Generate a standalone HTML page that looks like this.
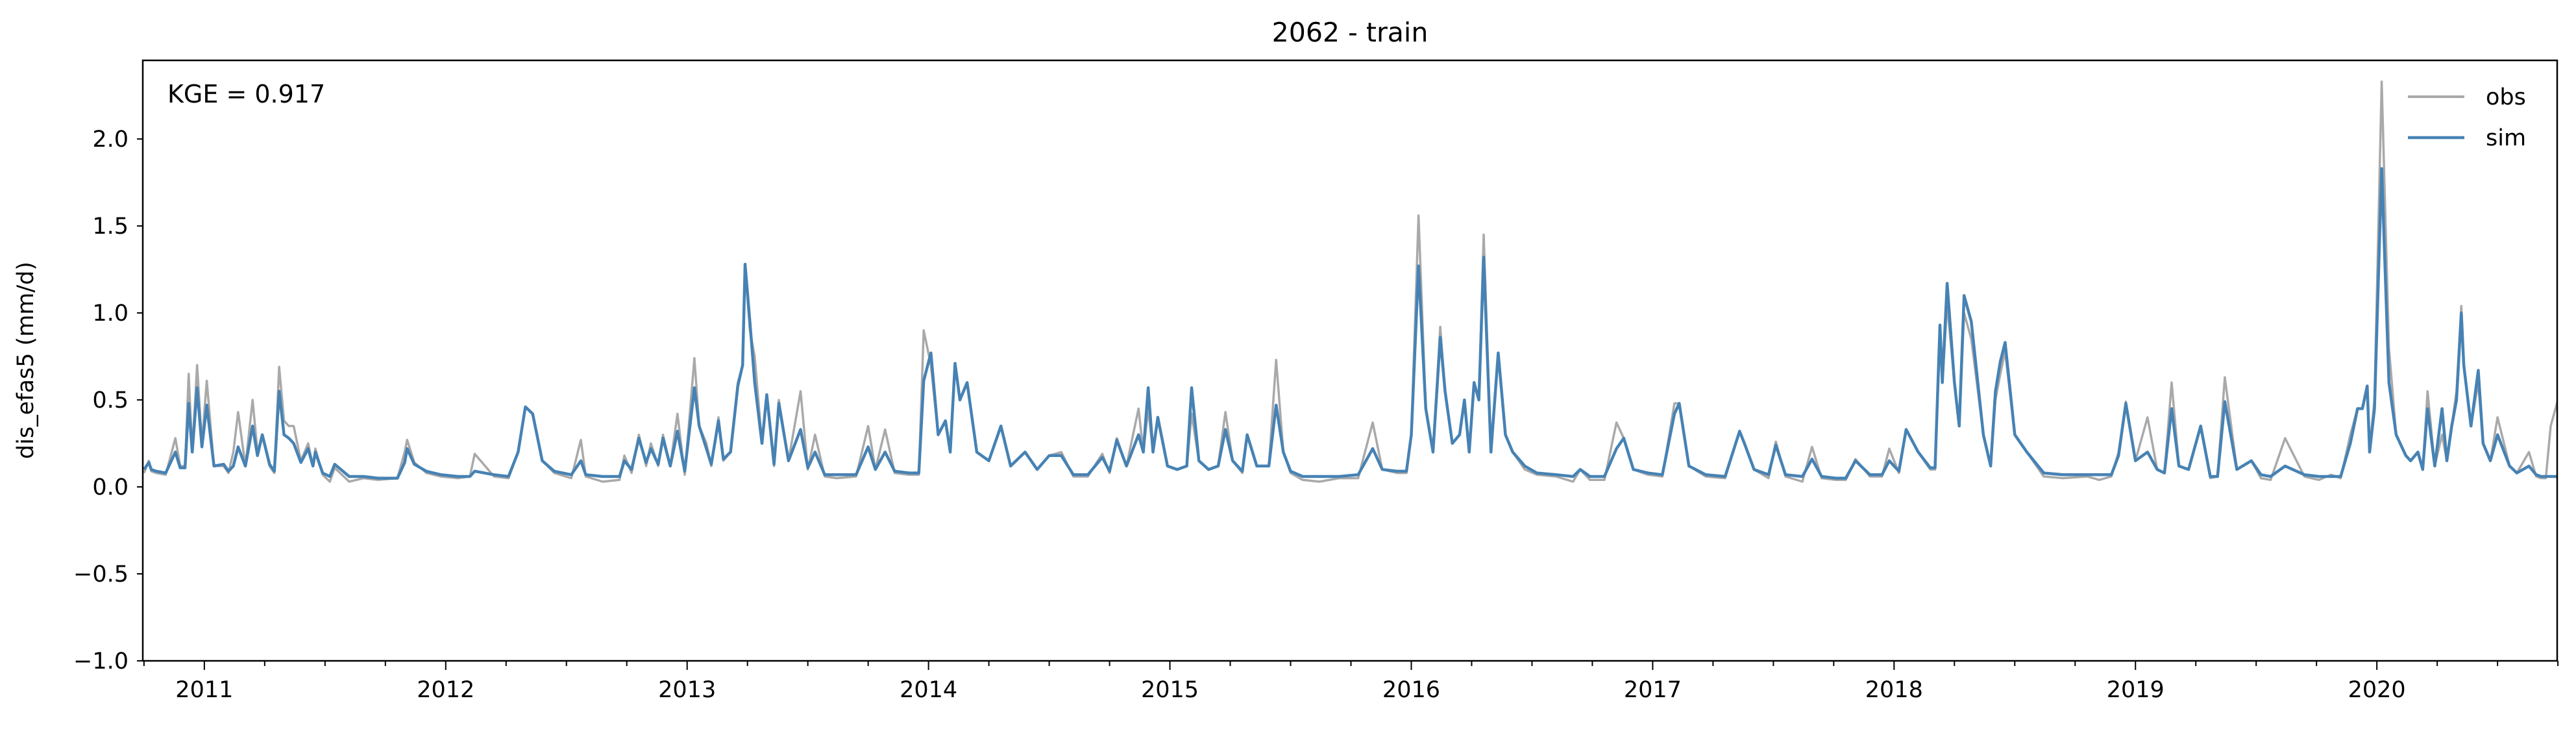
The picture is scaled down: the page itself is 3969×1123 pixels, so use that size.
<!DOCTYPE html>
<html><head><meta charset="utf-8"><style>
html,body{margin:0;padding:0;background:#fff;}
svg text{font-family:"DejaVu Sans","Liberation Sans",sans-serif;fill:#000;}
</style></head><body>
<svg id="chart" width="3969" height="1118" viewBox="0 0 3969 1118" xmlns="http://www.w3.org/2000/svg">
<rect x="0" y="0" width="3969" height="1118" fill="#fff"/>
<text x="2080" y="64" font-size="41" text-anchor="middle">2062 - train</text>
<text x="51" y="555" font-size="35" text-anchor="middle" transform="rotate(-90 51 555)">dis_efas5 (mm/d)</text>
<g id="plot"></g>
<text x="258" y="158" font-size="38">KGE = 0.917</text>
<g>
<line x1="3710" y1="149" x2="3797" y2="149" stroke="#a9a9a9" stroke-width="4"/>
<text x="3830" y="161" font-size="35">obs</text>
<line x1="3710" y1="212" x2="3797" y2="212" stroke="#4682b4" stroke-width="4.5"/>
<text x="3830" y="224" font-size="35">sim</text>
</g>
</svg>
<script>
const dates = [2010.75,2010.77,2010.78,2010.80,2010.84,2010.88,2010.90,2010.92,2010.935,2010.95,2010.97,2010.99,2011.01,2011.04,2011.08,2011.10,2011.12,2011.14,2011.17,2011.20,2011.22,2011.24,2011.27,2011.29,2011.31,2011.33,2011.35,2011.37,2011.40,2011.43,2011.45,2011.46,2011.49,2011.52,2011.54,2011.60,2011.66,2011.72,2011.80,2011.83,2011.84,2011.87,2011.92,2011.98,2012.05,2012.10,2012.12,2012.20,2012.26,2012.30,2012.33,2012.36,2012.40,2012.45,2012.52,2012.56,2012.58,2012.65,2012.72,2012.74,2012.77,2012.80,2012.83,2012.85,2012.88,2012.90,2012.93,2012.96,2012.99,2013.03,2013.05,2013.08,2013.10,2013.13,2013.15,2013.18,2013.21,2013.23,2013.24,2013.26,2013.28,2013.31,2013.33,2013.36,2013.38,2013.42,2013.47,2013.50,2013.53,2013.57,2013.62,2013.70,2013.75,2013.78,2013.82,2013.86,2013.92,2013.96,2013.98,2014.01,2014.04,2014.07,2014.09,2014.11,2014.13,2014.16,2014.20,2014.25,2014.30,2014.34,2014.40,2014.45,2014.50,2014.55,2014.60,2014.66,2014.72,2014.75,2014.78,2014.82,2014.87,2014.89,2014.91,2014.93,2014.95,2014.99,2015.03,2015.07,2015.09,2015.12,2015.16,2015.20,2015.23,2015.26,2015.30,2015.32,2015.36,2015.41,2015.44,2015.47,2015.50,2015.55,2015.62,2015.70,2015.78,2015.84,2015.88,2015.94,2015.98,2016.00,2016.03,2016.06,2016.09,2016.12,2016.14,2016.17,2016.20,2016.22,2016.24,2016.26,2016.28,2016.30,2016.33,2016.36,2016.39,2016.42,2016.47,2016.52,2016.60,2016.67,2016.70,2016.74,2016.80,2016.85,2016.88,2016.92,2016.98,2017.04,2017.09,2017.11,2017.15,2017.22,2017.30,2017.36,2017.38,2017.42,2017.48,2017.51,2017.55,2017.62,2017.66,2017.70,2017.76,2017.80,2017.84,2017.90,2017.95,2017.98,2018.02,2018.05,2018.10,2018.15,2018.17,2018.19,2018.20,2018.22,2018.25,2018.27,2018.29,2018.32,2018.37,2018.40,2018.42,2018.44,2018.46,2018.50,2018.55,2018.62,2018.70,2018.80,2018.85,2018.90,2018.93,2018.96,2019.00,2019.05,2019.09,2019.12,2019.15,2019.18,2019.22,2019.27,2019.31,2019.34,2019.37,2019.42,2019.48,2019.52,2019.56,2019.62,2019.70,2019.76,2019.81,2019.85,2019.89,2019.92,2019.94,2019.96,2019.97,2019.99,2020.02,2020.05,2020.08,2020.12,2020.14,2020.17,2020.19,2020.21,2020.24,2020.27,2020.29,2020.31,2020.33,2020.35,2020.36,2020.39,2020.42,2020.44,2020.47,2020.50,2020.55,2020.58,2020.63,2020.66,2020.68,2020.70,2020.72,2020.74,2020.75];
const obs = [0.08,0.15,0.09,0.08,0.07,0.28,0.12,0.12,0.65,0.2,0.70,0.25,0.61,0.12,0.12,0.08,0.2,0.43,0.12,0.50,0.2,0.30,0.12,0.08,0.69,0.38,0.35,0.35,0.15,0.25,0.12,0.22,0.07,0.03,0.11,0.03,0.05,0.04,0.05,0.2,0.27,0.14,0.08,0.06,0.05,0.06,0.19,0.06,0.05,0.2,0.46,0.42,0.15,0.08,0.05,0.27,0.06,0.03,0.04,0.18,0.08,0.30,0.12,0.25,0.12,0.30,0.12,0.42,0.07,0.74,0.35,0.25,0.12,0.40,0.15,0.2,0.6,0.7,1.26,0.9,0.75,0.25,0.53,0.12,0.5,0.15,0.55,0.1,0.3,0.06,0.05,0.06,0.35,0.1,0.33,0.08,0.07,0.07,0.90,0.70,0.3,0.38,0.2,0.71,0.5,0.6,0.2,0.15,0.35,0.12,0.2,0.1,0.18,0.2,0.06,0.06,0.19,0.08,0.28,0.12,0.45,0.2,0.45,0.2,0.4,0.12,0.1,0.12,0.42,0.15,0.1,0.12,0.43,0.15,0.08,0.3,0.12,0.12,0.73,0.2,0.08,0.04,0.03,0.05,0.05,0.37,0.1,0.08,0.08,0.3,1.56,0.45,0.2,0.92,0.55,0.25,0.3,0.5,0.2,0.6,0.5,1.45,0.2,0.77,0.3,0.2,0.1,0.07,0.06,0.03,0.1,0.04,0.04,0.37,0.28,0.1,0.07,0.06,0.48,0.48,0.12,0.06,0.05,0.32,0.25,0.1,0.05,0.26,0.06,0.03,0.23,0.05,0.04,0.04,0.16,0.06,0.06,0.22,0.08,0.33,0.2,0.1,0.1,0.85,0.6,1.05,0.6,0.35,1.0,0.85,0.3,0.12,0.5,0.65,0.78,0.3,0.2,0.06,0.05,0.06,0.04,0.06,0.2,0.49,0.15,0.4,0.1,0.08,0.6,0.12,0.1,0.35,0.05,0.06,0.63,0.1,0.15,0.05,0.04,0.28,0.06,0.04,0.07,0.05,0.3,0.45,0.45,0.58,0.22,0.5,2.33,0.8,0.3,0.18,0.15,0.2,0.1,0.55,0.12,0.3,0.15,0.35,0.55,1.04,0.7,0.35,0.6,0.25,0.15,0.4,0.12,0.08,0.2,0.06,0.05,0.05,0.35,0.45,0.5,0.6,0.3,0.2];
const sim = [0.10,0.14,0.10,0.09,0.08,0.20,0.11,0.11,0.48,0.2,0.57,0.23,0.47,0.12,0.13,0.09,0.12,0.23,0.12,0.35,0.18,0.30,0.13,0.09,0.55,0.30,0.28,0.25,0.14,0.22,0.12,0.2,0.08,0.06,0.13,0.06,0.06,0.05,0.05,0.14,0.22,0.13,0.09,0.07,0.06,0.06,0.09,0.07,0.06,0.2,0.46,0.42,0.15,0.09,0.07,0.15,0.07,0.06,0.06,0.15,0.10,0.28,0.14,0.22,0.13,0.28,0.12,0.32,0.09,0.57,0.35,0.22,0.13,0.38,0.16,0.2,0.58,0.7,1.28,0.95,0.6,0.25,0.53,0.13,0.48,0.15,0.33,0.11,0.2,0.07,0.07,0.07,0.23,0.1,0.2,0.09,0.08,0.08,0.61,0.77,0.3,0.38,0.2,0.71,0.5,0.6,0.2,0.15,0.35,0.12,0.2,0.1,0.18,0.18,0.07,0.07,0.17,0.09,0.27,0.12,0.3,0.2,0.57,0.2,0.4,0.12,0.1,0.12,0.57,0.15,0.1,0.12,0.33,0.15,0.09,0.3,0.12,0.12,0.47,0.2,0.09,0.06,0.06,0.06,0.07,0.22,0.1,0.09,0.09,0.3,1.27,0.45,0.2,0.86,0.55,0.25,0.3,0.5,0.2,0.6,0.5,1.32,0.2,0.77,0.3,0.2,0.12,0.08,0.07,0.06,0.1,0.06,0.06,0.22,0.28,0.1,0.08,0.07,0.42,0.48,0.12,0.07,0.06,0.32,0.25,0.1,0.07,0.24,0.07,0.06,0.16,0.06,0.05,0.05,0.15,0.07,0.07,0.15,0.09,0.33,0.2,0.11,0.11,0.93,0.6,1.17,0.6,0.35,1.1,0.95,0.3,0.12,0.55,0.72,0.83,0.3,0.2,0.08,0.07,0.07,0.07,0.07,0.18,0.48,0.15,0.2,0.1,0.08,0.45,0.12,0.1,0.35,0.06,0.06,0.49,0.1,0.15,0.07,0.06,0.12,0.07,0.06,0.06,0.06,0.25,0.45,0.45,0.58,0.2,0.45,1.83,0.6,0.3,0.18,0.15,0.2,0.1,0.45,0.12,0.45,0.15,0.35,0.5,1.0,0.7,0.35,0.67,0.25,0.15,0.3,0.12,0.08,0.12,0.07,0.06,0.06,0.06,0.06,0.06,0.27,0.15,0.1];
const yTicks = [-1.0,-0.5,0.0,0.5,1.0,1.5,2.0];
const yTickLabels = ["\u22121.0","\u22120.5","0.0","0.5","1.0","1.5","2.0"];
const xYears = [2011,2012,2013,2014,2015,2016,2017,2018,2019,2020];

const L=220,R=3940,T=93,B=1018;
const x0=2010.745,x1=2020.747,yMin=-1.0,yMax=2.452;
const sx=v=>L+(v-x0)/(x1-x0)*(R-L);
const sy=v=>B-(v-yMin)/(yMax-yMin)*(B-T);
const NS='http://www.w3.org/2000/svg';
const plot=document.getElementById('plot');
function mk(tag,attrs){const e=document.createElementNS(NS,tag);for(const k in attrs)e.setAttribute(k,attrs[k]);return e;}

const clip=mk('clipPath',{id:'pc'});clip.appendChild(mk('rect',{x:L,y:T,width:R-L,height:B-T}));
plot.appendChild(clip);

function line(vals,color,w,name){
  let d='';
  vals.forEach((v,i)=>{d+=(i?'L':'M')+sx(dates[i]).toFixed(1)+' '+sy(v).toFixed(1);});
  const p=mk('path',{d:d,fill:'none',stroke:color,'stroke-width':w,'stroke-linejoin':'round','clip-path':'url(#pc)'});
  
  
  plot.appendChild(p);
}
line(obs,'#a9a9a9',3.5,'obs-series-line');
line(sim,'#4682b4',4.5,'sim-series-line');

const frame=mk('rect',{x:L,y:T,width:R-L,height:B-T,fill:'none',stroke:'#000','stroke-width':2.5});


plot.appendChild(frame);

yTicks.forEach((v,i)=>{
  const t=mk('line',{x1:L-9,x2:L,y1:sy(v),y2:sy(v),stroke:'#000','stroke-width':2});
  
  
  plot.appendChild(t);
  const lb=mk('text',{x:L-22,y:sy(v)+12,'font-size':35,'text-anchor':'end'});
  lb.textContent=yTickLabels[i];
  
  
  plot.appendChild(lb);
});
for(let q=2010.75;q<=2020.76;q+=0.25){
  const xx=sx(q);
  const major=Math.abs(q-Math.round(q))<0.01;
  const t=mk('line',{x1:xx,x2:xx,y1:B,y2:B+(major?14:8),stroke:'#000','stroke-width':2});
  
  
  plot.appendChild(t);
}
xYears.forEach(yr=>{
  const lb=mk('text',{x:sx(yr),y:B+56,'font-size':35,'text-anchor':'middle'});
  lb.textContent=String(yr);
  
  
  plot.appendChild(lb);
});
</script>
</body></html>
